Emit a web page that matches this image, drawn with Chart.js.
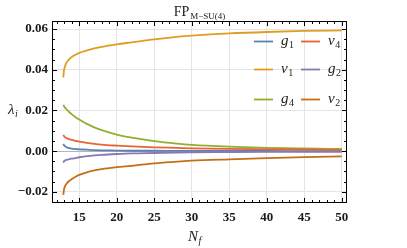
<!DOCTYPE html>
<html>
<head>
<meta charset="utf-8">
<script src="https://cdn.jsdelivr.net/npm/chart.js@4.4.1/dist/chart.umd.min.js"></script>
<style>
	html, body { margin: 0; padding: 0; background: #fff; }
	#wrap { width: 407px; height: 248px; }
</style>
</head>
<body>
<div id="wrap"><canvas id="myChart"></canvas></div>
<script>

// Data
var nf = [12.87, 12.95, 13.1, 13.3, 13.6, 14, 14.5, 15, 16, 17, 18, 20, 22, 25, 28, 30, 35, 40, 45, 50];
var g1 = [0.0036, 0.0030, 0.0024, 0.0019, 0.0015, 0.0012, 0.0010, 0.0009, 0.0007, 0.0005, 0.0004, 0.0003, 0.0002, 0.0002, 0.0001, 0.0001, 0.0001, 0.0001, 0.0000, 0.0000];
var v1 = [0.0362, 0.0395, 0.0418, 0.0435, 0.0450, 0.0463, 0.0474, 0.0483, 0.0495, 0.0505, 0.0513, 0.0525, 0.0535, 0.0550, 0.0562, 0.0568, 0.0579, 0.0586, 0.0591, 0.0594];
var g4 = [0.0228, 0.0222, 0.0214, 0.0205, 0.0194, 0.0181, 0.0167, 0.0156, 0.0134, 0.0117, 0.0103, 0.0081, 0.0066, 0.0049, 0.0037, 0.0031, 0.0022, 0.0016, 0.0013, 0.0011];
var v4 = [0.0080, 0.0074, 0.0069, 0.0064, 0.0059, 0.0055, 0.0051, 0.0047, 0.0041, 0.0036, 0.0032, 0.0027, 0.0023, 0.0019, 0.0016, 0.0014, 0.0011, 0.0009, 0.0007, 0.0006];
var g2 = [-0.0056, -0.0050, -0.0046, -0.0043, -0.0040, -0.0037, -0.0034, -0.0030, -0.0025, -0.0021, -0.0018, -0.0014, -0.0011, -0.0009, -0.0007, -0.0006, -0.0005, -0.0004, -0.0003, -0.0003];
var v2 = [-0.0215, -0.0190, -0.0172, -0.0160, -0.0148, -0.0137, -0.0126, -0.0117, -0.0104, -0.0095, -0.0088, -0.0079, -0.0072, -0.0060, -0.0052, -0.0047, -0.0040, -0.0034, -0.0029, -0.0026];

var seriesNames = ['g1', 'v1', 'g4', 'v4', 'g2', 'v2'];
var xTicks = [15, 20, 25, 30, 35, 40, 45, 50];
var yTicks = [-0.02, 0, 0.02, 0.04, 0.06];

var colors = {
	g1 : '#5e81b5',
	v1 : '#e19c24',
	g4 : '#8fb032',
	v4 : '#eb6235',
	g2 : '#8778b3',
	v2 : '#c56e1a'
};

var values = { g1: g1, v1: v1, g4: g4, v4: v4, g2: g2, v2: v2 };

function pts(arr) {
	return nf.map(function (x, i) { return { x: x, y: arr[i] }; });
}

var serif = "'Liberation Serif', 'DejaVu Serif', serif";

// italic letter with a small subscript (letters italic, digits upright)
function mathText(ctx, letter, sub, x, y, size) {
	ctx.font = 'italic ' + size + 'px ' + serif;
	ctx.fillText(letter, x, y);
	var w = ctx.measureText(letter).width;
	var style = /[a-z]/.test(sub) ? 'italic ' : '';
	ctx.font = style + Math.round(size * 0.68) + 'px ' + serif;
	ctx.fillText(sub, x + w + 0.5, y + size * 0.22);
}

var framePlugin = {
	id : 'frame',
	afterDraw : function (chart) {
		var ctx = chart.ctx, a = chart.chartArea;
		var xs = chart.scales.x, ys = chart.scales.y;
		ctx.save();
		ctx.strokeStyle = '#000';
		ctx.lineWidth = 1;
		ctx.strokeRect(a.left + 0.5, a.top + 0.5, a.right - a.left - 1, a.bottom - a.top - 1);

		// inward ticks, major and minor
		ctx.beginPath();
		for (var v = 12; v <= 50; v++) {
			var px = Math.round(xs.getPixelForValue(v)) + 0.5;
			var len = v % 5 === 0 ? 5 : 3;
			ctx.moveTo(px, a.bottom); ctx.lineTo(px, a.bottom - len);
			ctx.moveTo(px, a.top); ctx.lineTo(px, a.top + len);
		}
		for (var k = -5; k <= 12; k++) {
			var py = Math.round(ys.getPixelForValue(k * 0.005)) + 0.5;
			var l2 = k % 4 === 0 ? 5 : 3;
			ctx.moveTo(a.left, py); ctx.lineTo(a.left + l2, py);
			ctx.moveTo(a.right, py); ctx.lineTo(a.right - l2, py);
		}
		ctx.stroke();

		// legend, two columns
		var cols = [[254, 301], [281, 328]];
		var rows = [41, 69, 99];
		ctx.fillStyle = '#222';
		ctx.textBaseline = 'alphabetic';
		chart.data.datasets.forEach(function (ds, i) {
			var c = i < 3 ? 0 : 1, r = i % 3;
			ctx.strokeStyle = ds.borderColor;
			ctx.lineWidth = 1.8;
			ctx.beginPath();
			ctx.moveTo(cols[0][c], rows[r] + 0.5);
			ctx.lineTo(cols[0][c] + 19, rows[r] + 0.5);
			ctx.stroke();
			mathText(ctx, ds.label.charAt(0), ds.label.slice(1), cols[1][c], rows[r] + 4, 15);
		});

		// title
		ctx.font = '14px ' + serif;
		var w1 = ctx.measureText('FP').width;
		ctx.font = '9px ' + serif;
		var w2 = ctx.measureText('M\u2212SU(4)').width;
		var x0 = 199 - (w1 + w2) / 2;
		ctx.font = '14px ' + serif;
		ctx.fillText('FP', x0, 16);
		ctx.font = '9px ' + serif;
		ctx.fillText('M\u2212SU(4)', x0 + w1 + 1, 19);

		// axis labels
		mathText(ctx, '\u03bb', 'i', 8, 114, 15);
		mathText(ctx, 'N', 'f', 188, 241, 15);
		ctx.restore();
	}
};

var ctx = document.getElementById('myChart');
var myChart = new Chart(ctx, {
	type : 'line',
	data : {
		datasets : seriesNames.map(function (n, i) {
			return {
				label       : n,
				data        : pts(values[n]),
				borderColor : colors[n],
				borderWidth : 1.8,
				pointRadius : 0,
				fill        : false,
				cubicInterpolationMode : 'monotone',
				order       : seriesNames.length - i
			};
		})
	},
	options : {
		responsive : true,
		maintainAspectRatio : false,
		animation : false,
		layout : { padding : { left : 0, right : 60, top : 21, bottom : 0 } },
		plugins : {
			legend  : { display : false },
			tooltip : { enabled : false }
		},
		scales : {
			x : {
				type : 'linear',
				min  : 11.36,
				max  : 50.7,
				afterBuildTicks : function (s) { s.ticks = xTicks.map(function (v) { return { value: v }; }); },
				afterFit : function (s) { s.height = 45; },
				border : { display : false },
				grid : { color : '#e4e4e4', drawTicks : false },
				ticks : {
					padding : 7,
					color : '#1a1a1a',
					maxRotation : 0,
					font : { family : serif, size : 13, weight : 'bold' }
				}
			},
			y : {
				min  : -0.0255,
				max  : 0.064,
				afterBuildTicks : function (s) { s.ticks = yTicks.map(function (v) { return { value: v }; }); },
				afterFit : function (s) { s.width = 52; },
				border : { display : false },
				grid : {
					drawTicks : false,
					color : function (c) { return c.tick && c.tick.value === 0 ? '#b5b5b5' : '#e4e4e4'; }
				},
				ticks : {
					padding : 4,
					color : '#1a1a1a',
					font : { family : serif, size : 13, weight : 'bold' },
					callback : function (v) { return v < 0 ? '\u2212' + Math.abs(v).toFixed(2) : v.toFixed(2); }
				}
			}
		}
	},
	plugins : [framePlugin]
});
</script>
</body>
</html>
